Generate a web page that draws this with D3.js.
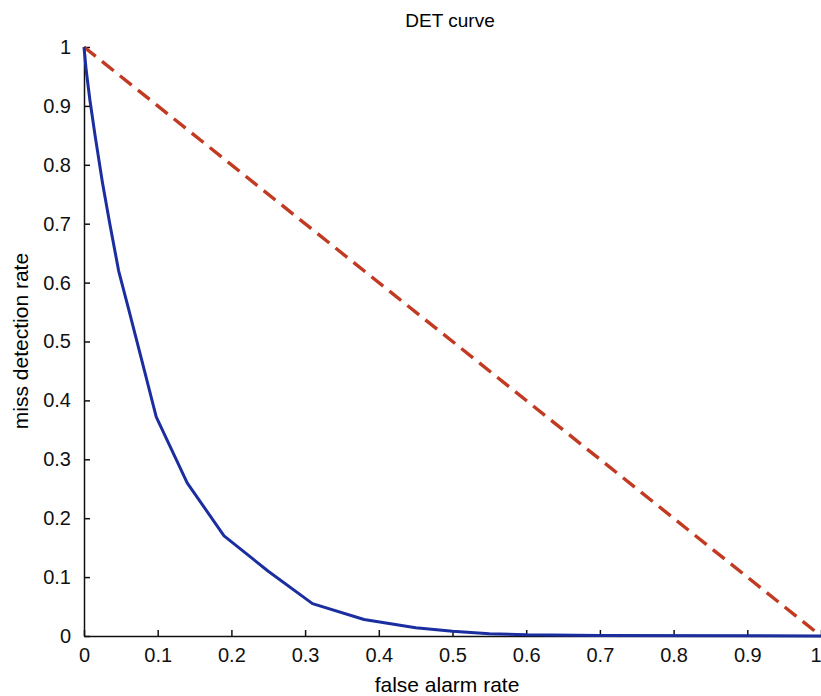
<!DOCTYPE html>
<html>
<head>
<meta charset="utf-8">
<script src="https://cdn.jsdelivr.net/npm/d3@7"></script>
<style>
  body { margin: 0; background: #fff; }
  svg { display: block; font-family: "Liberation Sans", Arial, sans-serif; }
  .axis text { font-size: 20px; fill: #111; }
  .axis path, .axis line { stroke: #111; stroke-width: 1.5; }
</style>
</head>
<body>
<svg id="chart" width="821" height="696"></svg>
<script>
// values
const falseAlarm = [0, 0.003, 0.008, 0.015, 0.025, 0.035, 0.047, 0.061, 0.078, 0.098, 0.14, 0.19, 0.25, 0.31, 0.38, 0.45, 0.5, 0.55, 0.6, 0.7, 1.0];
const missDetect = [1, 0.96, 0.91, 0.85, 0.77, 0.7, 0.62, 0.553, 0.47, 0.372, 0.26, 0.17, 0.11, 0.055, 0.028, 0.014, 0.008, 0.004, 0.002, 0.001, 0];
const chanceX = [0, 1];
const chanceY = [1, 0];
const tickVals = [0, 0.1, 0.2, 0.3, 0.4, 0.5, 0.6, 0.7, 0.8, 0.9, 1];
const tickLabels = ["0", "0.1", "0.2", "0.3", "0.4", "0.5", "0.6", "0.7", "0.8", "0.9", "1"];

const svg = d3.select("#chart");
const plotLeft = 84, plotRight = 821, plotTop = 47, plotBottom = 636;

const x = d3.scaleLinear().domain([0, 1]).range([plotLeft, plotRight]);
const y = d3.scaleLinear().domain([0, 1]).range([plotBottom, plotTop]);

const xAxis = d3.axisBottom(x)
  .tickValues(tickVals)
  .tickFormat((d, i) => tickLabels[i])
  .tickSizeInner(-6)
  .tickSizeOuter(0)
  .tickPadding(12);

const yAxis = d3.axisLeft(y)
  .tickValues(tickVals)
  .tickFormat((d, i) => tickLabels[i])
  .tickSizeInner(-6)
  .tickSizeOuter(0)
  .tickPadding(13);

const gx = svg.append("g")
  .attr("class", "x axis")
  .attr("transform", `translate(0,${plotBottom})`)
  .call(xAxis);

// last label sits on the window edge, keep it inside
gx.selectAll(".tick text")
  .filter((d) => d === 1)
  .attr("text-anchor", "end");

svg.append("g")
  .attr("class", "y axis")
  .attr("transform", `translate(${plotLeft},0)`)
  .call(yAxis);

const line = d3.line()
  .x((d) => x(d[0]))
  .y((d) => y(d[1]));

// chance line, red dashed
svg.append("path")
  .datum(d3.zip(chanceX, chanceY))
  .attr("d", line)
  .attr("fill", "none")
  .attr("stroke", "#c23a22")
  .attr("stroke-width", 3.4)
  .attr("stroke-dasharray", "15,8");

// DET curve
svg.append("path")
  .datum(d3.zip(falseAlarm, missDetect))
  .attr("d", line)
  .attr("fill", "none")
  .attr("stroke", "#1a2ea0")
  .attr("stroke-width", 3)
  .attr("stroke-linejoin", "round");

svg.append("text")
  .attr("x", 450)
  .attr("y", 27)
  .attr("text-anchor", "middle")
  .style("font-size", "19px")
  .text("DET curve");

svg.append("text")
  .attr("x", 447)
  .attr("y", 692)
  .attr("text-anchor", "middle")
  .style("font-size", "21px")
  .text("false alarm rate");

svg.append("text")
  .attr("transform", "translate(28,341) rotate(-90)")
  .attr("text-anchor", "middle")
  .style("font-size", "21px")
  .text("miss detection rate");
</script>
</body>
</html>
